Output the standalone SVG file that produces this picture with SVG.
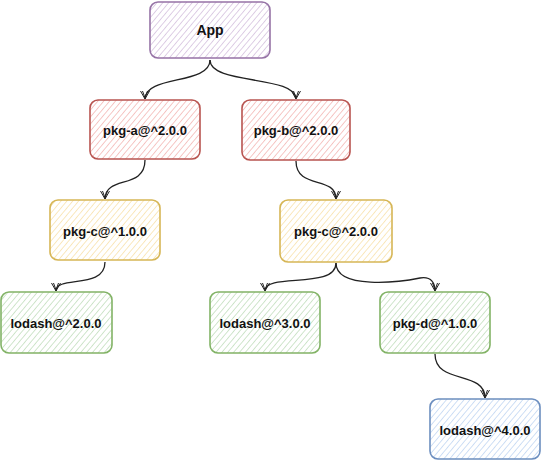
<svg xmlns="http://www.w3.org/2000/svg" width="541" height="461" viewBox="0 0 541 461">
<defs>
<pattern id="hp" width="4.5" height="4.5" patternUnits="userSpaceOnUse" patternTransform="rotate(40)"><rect width="4.5" height="4.5" fill="#fff"/><line x1="0" y1="0" x2="0" y2="4.5" stroke="#cdb6d8" stroke-width="1.3"/></pattern>
<pattern id="hr" width="4.5" height="4.5" patternUnits="userSpaceOnUse" patternTransform="rotate(40)"><rect width="4.5" height="4.5" fill="#fff"/><line x1="0" y1="0" x2="0" y2="4.5" stroke="#f2aaa7" stroke-width="1.3"/></pattern>
<pattern id="hy" width="4.5" height="4.5" patternUnits="userSpaceOnUse" patternTransform="rotate(40)"><rect width="4.5" height="4.5" fill="#fff"/><line x1="0" y1="0" x2="0" y2="4.5" stroke="#f8dd9c" stroke-width="1.3"/></pattern>
<pattern id="hg" width="4.5" height="4.5" patternUnits="userSpaceOnUse" patternTransform="rotate(40)"><rect width="4.5" height="4.5" fill="#fff"/><line x1="0" y1="0" x2="0" y2="4.5" stroke="#b7d8b2" stroke-width="1.3"/></pattern>
<pattern id="hb" width="4.5" height="4.5" patternUnits="userSpaceOnUse" patternTransform="rotate(40)"><rect width="4.5" height="4.5" fill="#fff"/><line x1="0" y1="0" x2="0" y2="4.5" stroke="#b6cff0" stroke-width="1.3"/></pattern>
<marker id="ar" markerWidth="12" markerHeight="12" refX="9" refY="6" orient="auto" markerUnits="userSpaceOnUse">
<path d="M1,1.5 L9,6 L1,10.5 M1,3.5 L8,6 L1,8.5" fill="none" stroke="#222" stroke-width="1"/>
</marker>
</defs>
<style>
.n{stroke-width:1.6}
.t{font-family:"Liberation Sans",Arial,sans-serif;font-weight:bold;font-size:13px;fill:#111;text-anchor:middle;dominant-baseline:central}
.c{fill:none;stroke:#222;stroke-width:1.3;marker-end:url(#ar)}
</style>
<g id="connectors">
<path class="c" d="M210,60 C210,85 145,75 145,99"/>
<path class="c" d="M210,60 C210,85 296,75 296,99"/>
<path class="c" d="M145,160 C145,190 105,175 105,199"/>
<path class="c" d="M296,161 C296,190 336,175 336,199"/>
<path class="c" d="M105,262 C105,290 56,275 56,291"/>
<path class="c" d="M336,263 C336,290 265,272 265,291"/>
<path class="c" d="M336,263 C336,290 400,282 420,278 C432,276 435,284 435,291"/>
<path class="c" d="M435,354 C435,385 485,370 485,398"/>
</g>
<g id="app"><rect class="n" x="150" y="2" width="120" height="56" rx="8" fill="url(#hp)" stroke="#9673a6"/><text class="t" x="210" y="30" style="font-size:14px">App</text></g>
<g id="pkg-a"><rect class="n" x="90" y="100" width="110" height="59" rx="8" fill="url(#hr)" stroke="#b85450"/><text class="t" x="145" y="130">pkg-a@^2.0.0</text></g>
<g id="pkg-b"><rect class="n" x="242" y="100" width="108" height="60" rx="8" fill="url(#hr)" stroke="#b85450"/><text class="t" x="296" y="130">pkg-b@^2.0.0</text></g>
<g id="pkg-c1"><rect class="n" x="50" y="200" width="110" height="60" rx="8" fill="url(#hy)" stroke="#d6b656"/><text class="t" x="105" y="231">pkg-c@^1.0.0</text></g>
<g id="pkg-c2"><rect class="n" x="280" y="200" width="112" height="62" rx="8" fill="url(#hy)" stroke="#d6b656"/><text class="t" x="336" y="231">pkg-c@^2.0.0</text></g>
<g id="lodash2"><rect class="n" x="1" y="292" width="111" height="61" rx="8" fill="url(#hg)" stroke="#82b366"/><text class="t" x="56" y="323">lodash@^2.0.0</text></g>
<g id="lodash3"><rect class="n" x="210" y="292" width="110" height="61" rx="8" fill="url(#hg)" stroke="#82b366"/><text class="t" x="265" y="323">lodash@^3.0.0</text></g>
<g id="pkg-d"><rect class="n" x="380" y="292" width="110" height="61" rx="8" fill="url(#hg)" stroke="#82b366"/><text class="t" x="435" y="323">pkg-d@^1.0.0</text></g>
<g id="lodash4"><rect class="n" x="430" y="399" width="110" height="60" rx="8" fill="url(#hb)" stroke="#6c8ebf"/><text class="t" x="485" y="430">lodash@^4.0.0</text></g>
</svg>
